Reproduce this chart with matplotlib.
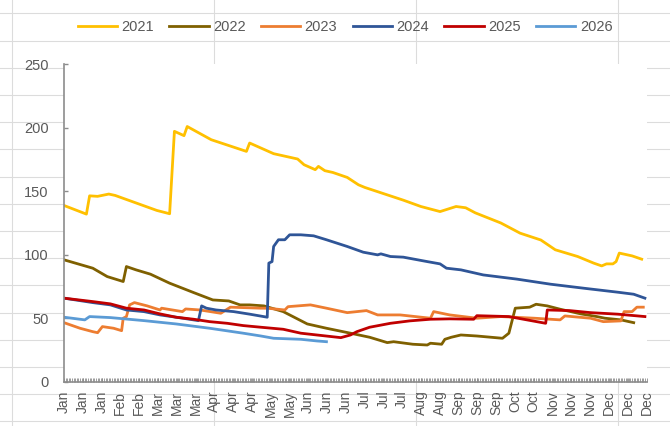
import matplotlib
matplotlib.use('Agg')
import matplotlib.pyplot as plt
from matplotlib.lines import Line2D
from matplotlib.ticker import MultipleLocator
import numpy as np

plt.rcParams['font.family'] = ['Liberation Sans', 'DejaVu Sans']

# values, x = day of year (0..364)
d2021 = [0, 14, 16, 21, 28, 32, 58, 66, 69, 75, 77, 92, 114, 116, 131, 146, 150, 157, 159,
         163, 168, 177, 184, 188, 200, 212, 223, 235, 240, 245, 251, 257, 273, 285, 298,
         307, 321, 331, 336, 339, 343, 345, 347, 355, 361]
v2021 = [138.8, 132.0, 146.4, 146.0, 147.8, 146.7, 134.9, 132.3, 197.2, 193.8, 201.0, 190.6,
         181.4, 188.0, 179.6, 175.4, 170.9, 167.0, 169.6, 166.2, 164.8, 160.9, 155.1, 153.0,
         148.0, 143.0, 138.0, 134.0, 136.0, 138.0, 137.0, 133.0, 125.0, 117.0, 111.6,
         103.9, 98.6, 93.4, 91.2, 92.8, 92.8, 94.6, 101.3, 99.1, 96.5]

d2022 = [0, 18, 27, 37, 39, 45, 54, 66, 81, 93, 103, 110, 116, 125, 137, 152, 164, 179, 191,
         202, 206, 218, 227, 229, 236, 238, 242, 248, 258, 274, 278, 282, 291, 295, 302, 310,
         323, 333, 338, 348, 356]
v2022 = [96.0, 89.4, 82.8, 78.9, 90.7, 88.1, 84.7, 77.6, 70.2, 64.4, 63.6, 60.5, 60.5, 59.7,
         55.2, 45.5, 42.1, 38.2, 35.0, 30.8, 31.5, 29.5, 28.9, 30.3, 29.5, 33.4, 35.0, 36.8,
         36.0, 34.2, 38.2, 57.9, 58.7, 61.0, 59.7, 57.1, 53.4, 51.3, 50.0, 48.7, 46.5]

d2023 = [0, 10, 18, 21, 24, 31, 36, 37, 39, 41, 44, 52, 60, 61, 74, 76, 85, 98, 104, 123,
         127, 138, 140, 154, 164, 177, 189, 196, 210, 229, 231, 241, 258, 273, 294, 310,
         313, 329, 337, 348, 350, 355, 358, 362]
v2023 = [46.5, 42.1, 39.4, 38.6, 43.4, 42.1, 40.2, 50.0, 51.3, 60.5, 62.3, 59.7, 56.5, 57.9,
         55.2, 57.3, 56.5, 53.9, 58.7, 57.9, 57.9, 56.5, 59.1, 60.5, 57.9, 54.4, 56.0, 52.6,
         52.6, 50.0, 55.2, 52.6, 50.0, 51.3, 50.0, 48.7, 51.8, 50.0, 47.3, 47.9, 55.2, 55.2,
         58.7, 58.7]

d2024 = [0, 18, 29, 39, 50, 60, 70, 84, 86, 89, 95, 106, 116, 127, 128, 130, 131, 134, 138,
         141, 148, 156, 164, 177, 187, 196, 198, 204, 212, 227, 235, 239, 248, 262, 283, 304,
         325, 346, 356, 363]
v2024 = [65.8, 62.3, 60.5, 56.5, 55.2, 52.6, 50.8, 48.1, 59.7, 57.9, 56.5, 55.2, 53.2, 50.8,
         93.4, 94.6, 106.5, 111.8, 111.8, 115.7, 115.7, 114.9, 111.8, 106.5, 102.0, 99.9,
         100.7, 98.6, 98.1, 94.6, 92.8, 89.4, 88.1, 84.1, 80.8, 76.8, 73.6, 70.5, 68.9, 65.8]

d2025 = [0, 18, 29, 39, 50, 60, 70, 81, 91, 102, 112, 123, 137, 148, 158, 173, 179, 183, 191,
         204, 216, 229, 241, 256, 258, 278, 301, 302, 316, 329, 346, 363]
v2025 = [65.8, 63.1, 61.3, 57.9, 56.5, 53.4, 50.8, 49.2, 47.3, 46.0, 44.2, 42.9, 41.3, 38.2,
         36.8, 34.7, 36.8, 39.4, 42.9, 46.0, 47.9, 49.2, 49.5, 49.2, 52.0, 51.3, 46.0, 56.5,
         56.0, 54.4, 53.2, 51.3]

d2026 = [0, 13, 16, 29, 50, 70, 91, 112, 123, 131, 148, 158, 164]
v2026 = [50.8, 48.7, 51.3, 50.5, 48.1, 45.5, 42.1, 38.2, 36.0, 34.2, 33.4, 32.1, 31.5]

years = ['2021', '2022', '2023', '2024', '2025', '2026']
colors = ['#FFC000', '#7F6000', '#ED7D31', '#2F5597', '#C00000', '#5B9BD5']

month_labels = ['Jan', 'Jan', 'Jan', 'Feb', 'Feb', 'Mar', 'Mar', 'Mar', 'Apr', 'Apr', 'Apr',
                'May', 'May', 'Jun', 'Jun', 'Jun', 'Jul', 'Jul', 'Jul', 'Aug', 'Aug', 'Sep',
                'Sep', 'Sep', 'Oct', 'Oct', 'Nov', 'Nov', 'Nov', 'Dec', 'Dec', 'Dec']

W, H = 670, 426
fig = plt.figure(figsize=(W / 100, H / 100), dpi=100, facecolor='white')

# spreadsheet cell grid behind the chart
for k in range(16):
    yp = 13.4 + 27.2 * k
    fig.add_artist(Line2D([0, 1], [1 - yp / H, 1 - yp / H], transform=fig.transFigure,
                          color='#DCDCDC', lw=0.8, zorder=-5))
for k in range(4):
    xp = 11.7 + 202.2 * k
    fig.add_artist(Line2D([xp / W, xp / W], [0, 1], transform=fig.transFigure,
                          color='#DCDCDC', lw=0.8, zorder=-5))

ax = fig.add_axes([64 / W, (H - 381.7) / H, (646.5 - 64) / W, (381.7 - 64.3) / H])
ax.set_facecolor('white')

series = [(d2021, v2021), (d2022, v2022), (d2023, v2023),
          (d2024, v2024), (d2025, v2025), (d2026, v2026)]
for (dx, vy), yr, c in zip(series, years, colors):
    ax.plot(dx, vy, color=c, lw=2, label=yr, solid_joinstyle='round')

ax.set_xlim(0, 364)
ax.set_ylim(0, 250)
ax.set_yticks([0, 50, 100, 150, 200, 250])
ax.set_xticks(np.linspace(0, 364, len(month_labels)))
ax.set_xticklabels(month_labels, rotation=90)
ax.xaxis.set_minor_locator(MultipleLocator(1))

for s in ['top', 'right']:
    ax.spines[s].set_visible(False)
for s in ['left', 'bottom']:
    ax.spines[s].set_color('#8C8C8C')
    ax.spines[s].set_linewidth(1.2)

ax.tick_params(axis='y', direction='in', length=3, width=1, color='#8C8C8C',
               labelsize=10.5, labelcolor='#595959', pad=11)
ax.tick_params(axis='x', which='both', direction='in', length=3, width=0.6,
               color='#8C8C8C', labelsize=10, labelcolor='#595959', pad=6.5)

fig.legend(loc='center', bbox_to_anchor=(345 / W, 1 - 27 / H), ncol=6, frameon=False,
           handlelength=2.7, handletextpad=0.3, columnspacing=1.05,
           fontsize=10.5, labelcolor='#595959')

fig.savefig('out.png', dpi=100, facecolor='white')
